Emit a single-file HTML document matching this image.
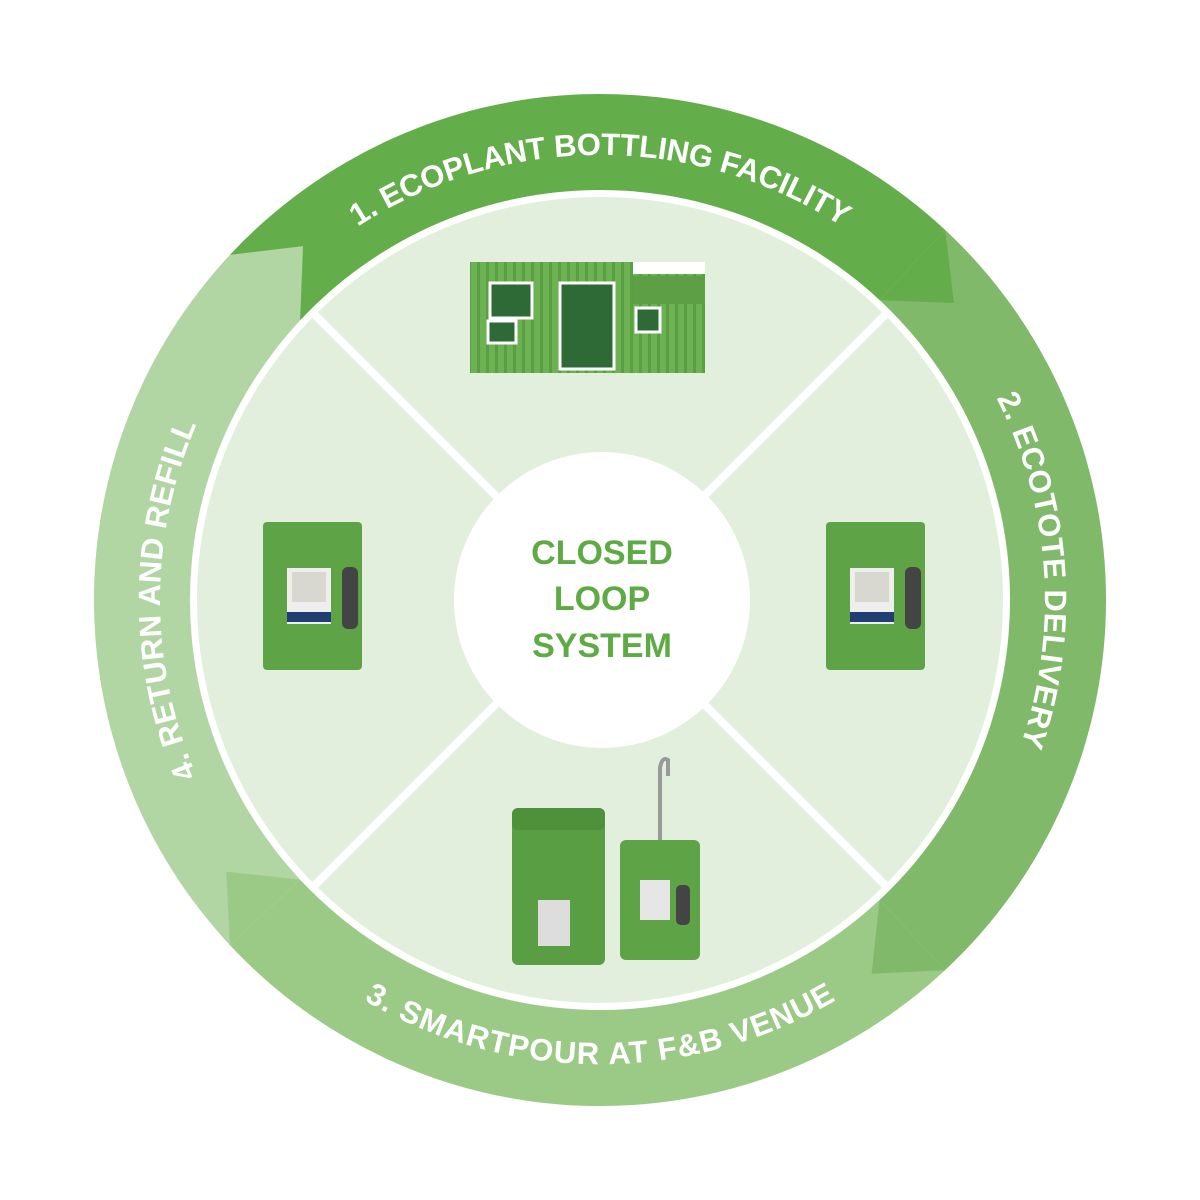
<!DOCTYPE html>
<html><head><meta charset="utf-8"><style>html,body{margin:0;padding:0;background:#fff}svg{display:block}</style></head>
<body>
<svg width="1200" height="1200" viewBox="0 0 1200 1200" xmlns="http://www.w3.org/2000/svg">
<defs>
<pattern id="st" width="9" height="10" patternUnits="userSpaceOnUse"><rect width="9" height="10" fill="#6cb152"/><rect width="3" height="10" fill="#5a9e44"/></pattern>
<path id="pTop" d="M285.3,285.3 A445,445 0 0 1 914.7,285.3"/>
<path id="pRight" d="M891.9,264.2 A445,445 0 0 1 935.8,891.9"/>
<path id="pBot" d="M271.2,928.8 A467,467 0 0 0 928.8,928.8"/>
<path id="pLeft" d="M288.9,911.1 A440,440 0 0 1 288.9,288.9"/>
</defs>
<rect width="1200" height="1200" fill="#fff"/>
<path d="M229.9,254.9 A506,506 0 0 1 945.1,229.9 L879.6,300.1 A410,410 0 0 0 300.1,320.4 Z" fill="#63ad4a"/>
<path d="M945.1,229.9 A506,506 0 0 1 945.1,970.1 L879.6,899.9 A410,410 0 0 0 879.6,300.1 Z" fill="#7fb969"/>
<path d="M945.1,970.1 A506,506 0 0 1 229.9,945.1 L300.1,879.6 A410,410 0 0 0 879.6,899.9 Z" fill="#9bca87"/>
<path d="M229.9,945.1 A506,506 0 0 1 229.9,254.9 L300.1,320.4 A410,410 0 0 0 300.1,879.6 Z" fill="#b2d5a4"/>
<polygon points="945.1,229.9 953.9,303 879.6,300.1" fill="#63ad4a"/>
<polygon points="945.1,970.1 871.6,973.8 879.6,899.9" fill="#7fb969"/>
<polygon points="229.9,945.1 226.2,871.6 300.1,879.6" fill="#9bca87"/>
<polygon points="229.9,254.9 303,246.1 300.1,320.4" fill="#b2d5a4"/>
<circle cx="600" cy="600" r="403" fill="#e2efdc"/>
<g stroke="#fff" stroke-width="8">
<line x1="315" y1="315" x2="885" y2="885"/>
<line x1="885" y1="315" x2="315" y2="885"/>
</g>
<circle cx="602" cy="600" r="148" fill="#fff"/>
<g font-family="Liberation Sans, sans-serif" font-weight="bold" fill="#5eaa45" font-size="34" text-anchor="middle">
<text x="602" y="564">CLOSED</text>
<text x="602" y="610">LOOP</text>
<text x="602" y="657">SYSTEM</text>
</g>
<g font-family="Liberation Sans, sans-serif" font-weight="bold" fill="#fff" font-size="31">
<text><textPath href="#pTop" startOffset="50%" text-anchor="middle" textLength="512" lengthAdjust="spacing">1. ECOPLANT BOTTLING FACILITY</textPath></text>
<text><textPath href="#pRight" startOffset="50%" text-anchor="middle" textLength="357" lengthAdjust="spacing">2. ECOTOTE  DELIVERY</textPath></text>
<text><textPath href="#pBot" startOffset="50%" text-anchor="middle" textLength="495" lengthAdjust="spacing">3. SMARTPOUR AT F&amp;B VENUE</textPath></text>
<text><textPath href="#pLeft" startOffset="50%" text-anchor="middle" textLength="361" lengthAdjust="spacing">4. RETURN AND REFILL</textPath></text>
</g>
<rect x="470" y="262" width="235" height="111" fill="url(#st)"/>
<rect x="633" y="262" width="72" height="12" fill="#fff"/>
<rect x="633" y="276" width="72" height="28" fill="#5c9f45"/>
<g fill="#2e6a35" stroke="#fff" stroke-width="3">
<rect x="490" y="283" width="42" height="35"/>
<rect x="488" y="321" width="28" height="22"/>
<rect x="560" y="283" width="54" height="86"/>
<rect x="636" y="308" width="24" height="24"/>
</g>
<g id="tote">
<rect x="263" y="522" width="99" height="148" rx="4" fill="#5fa347"/>
<rect x="287" y="568" width="44" height="56" fill="#eee"/>
<rect x="287" y="612" width="44" height="10" fill="#1f3f73"/>
<rect x="292" y="572" width="34" height="30" fill="#d8d8d0"/>
<rect x="342" y="567" width="16" height="62" rx="6" fill="#444"/>
</g>
<use href="#tote" x="563" y="0"/>
<rect x="512" y="808" width="93" height="157" rx="6" fill="#5a9e43"/>
<rect x="512" y="808" width="93" height="22" rx="6" fill="#4f913a"/>
<rect x="538" y="900" width="32" height="46" fill="#ddd"/>
<path d="M660,845 L660,768 Q662,756 668,760 L668,776" fill="none" stroke="#999" stroke-width="4"/>
<rect x="620" y="840" width="80" height="120" rx="6" fill="#5fa347"/>
<rect x="640" y="880" width="30" height="40" fill="#e6e6e6"/>
<rect x="676" y="885" width="14" height="40" rx="5" fill="#444"/>
</svg>
</body></html>
